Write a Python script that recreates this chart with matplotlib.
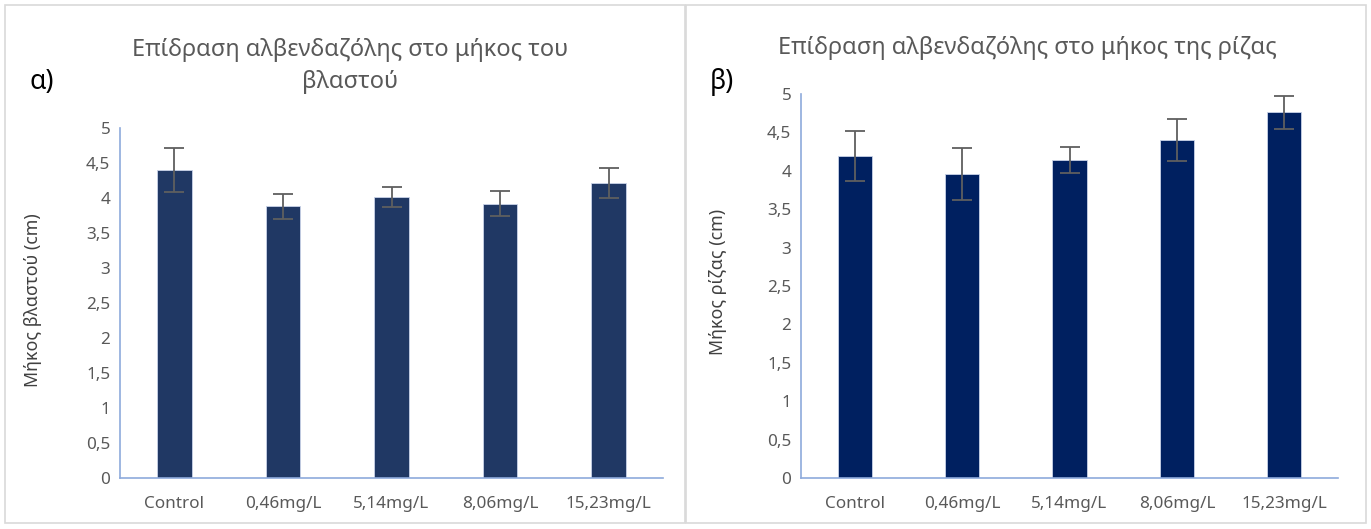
import numpy as np
import matplotlib
matplotlib.use("Agg")
import matplotlib.pyplot as plt
from matplotlib.patches import Rectangle

plt.rcParams['font.family'] = ['Noto Sans', 'DejaVu Sans']

categories = ['Control', '0,46mg/L', '5,14mg/L', '8,06mg/L', '15,23mg/L']

# shoot length (a)
shoot_mean = [4.40, 3.88, 4.01, 3.92, 4.21]
shoot_err = [0.32, 0.18, 0.145, 0.18, 0.215]

# root length (b)
root_mean = [4.19, 3.96, 4.14, 4.40, 4.76]
root_err = [0.325, 0.34, 0.175, 0.275, 0.21]

yticks = [0, 0.5, 1, 1.5, 2, 2.5, 3, 3.5, 4, 4.5, 5]
ytick_labels = ['0', '0,5', '1', '1,5', '2', '2,5', '3', '3,5', '4', '4,5', '5']

title_a = 'Επίδραση αλβενδαζόλης στο μήκος του\nβλαστού'
title_b = 'Επίδραση αλβενδαζόλης στο μήκος της ρίζας'
ylabel_a = 'Μήκος βλαστού (cm)'
ylabel_b = 'Μήκος ρίζας (cm)'

W, H = 1371, 529
fig = plt.figure(figsize=(W / 100, H / 100), dpi=100)

gray_txt = '#595959'
axis_col = '#8EAADB'


def px(x0, y0, x1, y1):
    # pixel box -> figure fraction [left, bottom, width, height]
    return [x0 / W, 1 - y1 / H, (x1 - x0) / W, (y1 - y0) / H]


def draw_panel(rect, mean, err, color):
    ax = fig.add_axes(rect)
    x = np.arange(len(categories))
    ax.bar(x, mean, width=0.32, color=color, edgecolor='#C9D3E8', linewidth=0.6,
           yerr=err, error_kw=dict(ecolor='#5F5F5F', elinewidth=1.3, capsize=7, capthick=1.3),
           zorder=2)
    ax.set_xlim(-0.5, len(categories) - 0.5)
    ax.set_ylim(0, 5)
    ax.set_yticks(yticks)
    ax.set_yticklabels(ytick_labels)
    ax.set_xticks(x)
    ax.set_xticklabels(categories)
    ax.tick_params(axis='both', length=0, colors=gray_txt, labelsize=12.3)
    ax.tick_params(axis='y', pad=7)
    ax.tick_params(axis='x', pad=13)
    for s in ['top', 'right']:
        ax.spines[s].set_visible(False)
    for s in ['left', 'bottom']:
        ax.spines[s].set_color(axis_col)
        ax.spines[s].set_linewidth(1.2)
    return ax


# panel frames
fig.patches.append(Rectangle((5 / W, 1 - 523 / H), 680 / W, 518 / H, transform=fig.transFigure,
                             fill=False, edgecolor='#D9D9D9', linewidth=1.2))
fig.patches.append(Rectangle((686 / W, 1 - 523 / H), 680 / W, 518 / H, transform=fig.transFigure,
                             fill=False, edgecolor='#D9D9D9', linewidth=1.2))

ax1 = draw_panel(px(120, 128, 663, 478), shoot_mean, shoot_err, '#203864')
ax2 = draw_panel(px(801, 94, 1338, 478), root_mean, root_err, '#002060')

fig.text(33 / W, 1 - 300 / H, ylabel_a, rotation=90, ha='center', va='center',
         fontsize=12.8, color='#404040')
fig.text(718 / W, 1 - 282 / H, ylabel_b, rotation=90, ha='center', va='center',
         fontsize=12.8, color='#404040')

fig.text(350 / W, 1 - 66 / H, title_a, ha='center', va='center', fontsize=17,
         color=gray_txt, linespacing=1.45)
fig.text(1027 / W, 1 - 48 / H, title_b, ha='center', va='center', fontsize=17, color=gray_txt)

fig.text(42 / W, 1 - 82 / H, 'α)', ha='center', va='center', fontsize=19, color='black')
fig.text(722 / W, 1 - 82 / H, 'β)', ha='center', va='center', fontsize=19, color='black')

fig.savefig('out.png', dpi=100)
